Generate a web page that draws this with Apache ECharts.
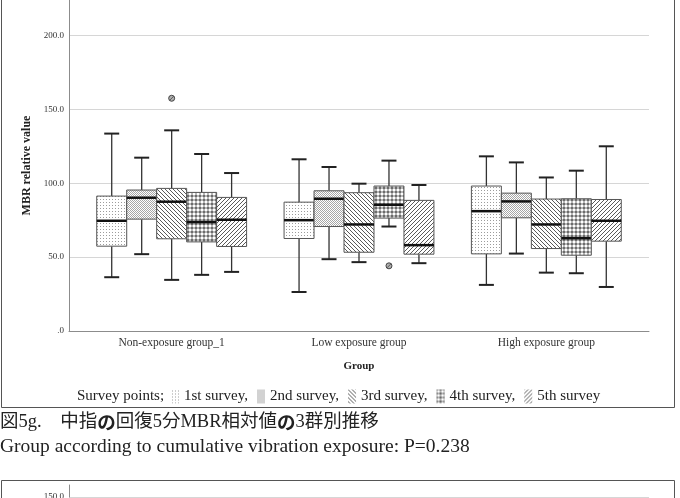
<!DOCTYPE html>
<html>
<head>
<meta charset="utf-8">
<script src="https://cdn.jsdelivr.net/npm/echarts@6/dist/echarts.min.js"></script>
<style>
  html, body { margin: 0; padding: 0; background: #fff; }
  #chart { width: 680px; height: 498px; }
</style>
</head>
<body>
<div id="chart"></div>
<script>
// groups on the x axis
const groups = ['Non-exposure group_1', 'Low exposure group', 'High exposure group'];
const surveys = ['1st survey', '2nd survey', '3rd survey', '4th survey', '5th survey'];

// [min, q1, median, q3, max] per group, one array per survey point
const survey1 = [[36.4, 57.4, 74.6, 91.3, 133.6], [26.4, 62.6, 75.0, 87.2, 116.2], [31.2, 52.2, 81.1, 98.1, 118.2]];
const survey2 = [[52.0, 75.7, 90.2, 95.4, 117.3], [48.6, 70.7, 89.5, 94.9, 111.0], [52.4, 76.6, 87.7, 93.3, 114.1]];
const survey3 = [[34.6, 62.4, 87.5, 96.5, 135.8], [46.6, 53.3, 72.1, 93.6, 99.7], [39.5, 55.8, 72.1, 89.3, 103.9]];
const survey4 = [[38.0, 60.3, 73.7, 93.8, 119.8], [70.7, 76.4, 85.4, 98.1, 115.3], [39.1, 51.3, 62.8, 89.5, 108.5]];
const survey5 = [[40.0, 57.2, 75.3, 90.4, 106.9], [45.9, 52.0, 58.1, 88.4, 98.8], [29.8, 60.8, 74.6, 89.0, 125.0]];
// [group index, survey index, value]
const outliers = [[0, 2, 157.5], [1, 3, 44.1]];

const yTicks = [0, 50, 100, 150, 200];

const caption1 = '図5g.　中指{b|の}回復5分MBR相対値{b|の}3群別推移';
const caption2 = 'Group according to cumulative vibration exposure: P=0.238';

const serif = 'Liberation Serif';
const stats = [survey1, survey2, survey3, survey4, survey5];

// hatch fills like the SPSS patterns
function makeTile(w, h, draw) {
  const c = document.createElement('canvas');
  c.width = w; c.height = h;
  const ctx = c.getContext('2d');
  ctx.fillStyle = '#fff';
  ctx.fillRect(0, 0, w, h);
  draw(ctx);
  return { image: c, repeat: 'repeat' };
}
const fills = [
  makeTile(3, 3, ctx => { ctx.fillStyle = '#9c9c9c'; ctx.fillRect(1, 1, 1, 1); }),
  makeTile(2, 2, ctx => { ctx.fillStyle = '#a6a6a6'; ctx.fillRect(0, 0, 1, 1); ctx.fillRect(1, 1, 1, 1); }),
  makeTile(4, 4, ctx => { ctx.fillStyle = '#5a5a5a'; for (let i = 0; i < 4; i++) ctx.fillRect(i, i, 1, 1); }),
  makeTile(4, 4, ctx => {
    ctx.fillStyle = '#5c5c5c'; ctx.fillRect(0, 0, 4, 4);
    ctx.fillStyle = '#fff'; ctx.beginPath(); ctx.arc(2, 2, 1.75, 0, Math.PI * 2); ctx.fill();
  }),
  makeTile(4, 4, ctx => { ctx.fillStyle = '#5a5a5a'; for (let i = 0; i < 4; i++) ctx.fillRect(3 - i, i, 1, 1); })
];

function boxRenderer(s) {
  return function (params, api) {
    const band = api.size([1, 0])[0];
    const w = band * 0.16;
    const g = api.value(0);
    const cx = api.coord([g, 0])[0] + (s - 2) * w;
    const [yMin, yQ1, yMed, yQ3, yMax] = [1, 2, 3, 4, 5].map(k => api.coord([g, api.value(k)])[1]);
    const capHalf = w / 4;
    const whisker = { stroke: '#333', lineWidth: 1.3 };
    const cap = { stroke: '#222', lineWidth: 2 };
    return {
      type: 'group',
      children: [
        { type: 'line', shape: { x1: cx, y1: yQ3, x2: cx, y2: yMax }, style: whisker },
        { type: 'line', shape: { x1: cx, y1: yQ1, x2: cx, y2: yMin }, style: whisker },
        { type: 'line', shape: { x1: cx - capHalf, y1: yMax, x2: cx + capHalf, y2: yMax }, style: cap },
        { type: 'line', shape: { x1: cx - capHalf, y1: yMin, x2: cx + capHalf, y2: yMin }, style: cap },
        { type: 'rect', shape: { x: cx - w / 2, y: yQ3, width: w, height: yQ1 - yQ3 }, style: { fill: fills[s], stroke: '#555', lineWidth: 1 } },
        { type: 'line', shape: { x1: cx - w / 2, y1: yMed, x2: cx + w / 2, y2: yMed }, style: { stroke: '#111', lineWidth: 2.5 } }
      ]
    };
  };
}

function outlierRenderer(params, api) {
  const band = api.size([1, 0])[0];
  const w = band * 0.16;
  const g = api.value(0);
  const cx = api.coord([g, 0])[0] + (api.value(1) - 2) * w;
  const cy = api.coord([g, api.value(2)])[1];
  return {
    type: 'group',
    children: [
      { type: 'circle', shape: { cx: cx, cy: cy, r: 3 }, style: { fill: '#b0b0b0', stroke: '#444', lineWidth: 1 } },
      { type: 'line', shape: { x1: cx - 2, y1: cy + 2, x2: cx + 2, y2: cy - 2 }, style: { stroke: '#444', lineWidth: 0.8 } }
    ]
  };
}

const fmt = v => (v === 0 ? '.0' : v.toFixed(1));

const chart = echarts.init(document.getElementById('chart'));

const series = surveys.map((name, s) => ({
  type: 'custom',
  name: name,
  xAxisIndex: 1,
  yAxisIndex: 1,
  itemStyle: { color: fills[s] },
  renderItem: boxRenderer(s),
  encode: { x: 0, y: [1, 2, 3, 4, 5] },
  data: stats[s].map((d, g) => [g].concat(d))
}));
series.push({
  type: 'custom',
  name: 'outliers',
  xAxisIndex: 1,
  yAxisIndex: 1,
  renderItem: outlierRenderer,
  encode: { x: 0, y: 2 },
  data: outliers
});

const option = {
  animation: false,
  backgroundColor: '#fff',
  grid: [
    { left: 69, right: 31, top: 0, height: 331, outerBoundsMode: 'none' },
    { left: 78, right: 40, top: 0, height: 331, outerBoundsMode: 'none' },
    { left: 69, right: 31, top: 485, height: 12, outerBoundsMode: 'none' }
  ],
  xAxis: [
    {
      gridIndex: 0, type: 'value', min: 0, max: 1,
      axisLine: { show: true, lineStyle: { color: '#8c8c8c' } },
      axisTick: { show: false }, axisLabel: { show: false }, splitLine: { show: false },
      name: 'Group', nameLocation: 'middle', nameGap: 30,
      nameTextStyle: { fontFamily: serif, fontWeight: 'bold', fontSize: 11, color: '#222' }
    },
    {
      gridIndex: 1, type: 'category', data: groups,
      axisLine: { show: false }, axisTick: { show: false },
      axisLabel: { margin: 6, fontFamily: serif, fontSize: 11.5, color: '#333' }
    },
    { gridIndex: 2, type: 'value', show: false }
  ],
  yAxis: [
    {
      gridIndex: 0, type: 'value', min: 0, max: 224, interval: 50,
      axisLine: { show: true, lineStyle: { color: '#8c8c8c' } },
      axisTick: { show: false },
      axisLabel: { margin: 5, fontFamily: serif, fontSize: 9, color: '#333', showMaxLabel: false,
        formatter: v => (yTicks.includes(v) ? fmt(v) : '') },
      splitLine: { show: true, showMinLine: false, showMaxLine: false, lineStyle: { color: '#d6d6d6' } },
      name: 'MBR relative value', nameLocation: 'middle', nameGap: 35,
      nameTextStyle: { fontFamily: serif, fontWeight: 'bold', fontSize: 12, color: '#222' }
    },
    { gridIndex: 1, type: 'value', min: 0, max: 224, show: false },
    {
      gridIndex: 2, type: 'value', min: 150, max: 162, interval: 50,
      axisLine: { show: true, lineStyle: { color: '#8c8c8c' } },
      axisTick: { show: false },
      axisLabel: { margin: 5, fontFamily: serif, fontSize: 9, color: '#333', showMaxLabel: false,
        formatter: v => (yTicks.includes(v) ? fmt(v) : '') },
      splitLine: { show: true, showMinLine: true, showMaxLine: false, lineStyle: { color: '#d6d6d6' } }
    }
  ],
  legend: {
    left: 171, top: 389, padding: 0,
    itemWidth: 8, itemHeight: 14, itemGap: 9,
    selectedMode: false, icon: 'rect',
    textStyle: { fontFamily: serif, fontSize: 15, color: '#222' },
    formatter: n => (n === surveys[4] ? n : n + ','),
    data: surveys.map((n, i) => ({ name: n, itemStyle: { color: fills[i], borderWidth: 0 } }))
  },
  graphic: [
    { type: 'rect', silent: true, shape: { x: 1.5, y: -5, width: 673, height: 412.5 }, style: { fill: 'none', stroke: '#555', lineWidth: 1 } },
    { type: 'rect', silent: true, shape: { x: 1.5, y: 480.5, width: 673, height: 40 }, style: { fill: 'none', stroke: '#555', lineWidth: 1 } },
    { type: 'text', x: 77, y: 396, style: { text: 'Survey points;', font: '15px "Liberation Serif"', fill: '#222', verticalAlign: 'middle' } },
    { type: 'text', x: 0, y: 422, style: {
      text: caption1, font: '18.5px "Liberation Serif", "Noto Sans CJK JP"', fill: '#222', verticalAlign: 'middle',
      rich: { b: { fontWeight: 'bold', fontSize: 18.5, fontFamily: 'Noto Sans CJK JP', fill: '#222' } } } },
    { type: 'text', x: 0, y: 447, style: { text: caption2, font: '19.5px "Liberation Serif"', fill: '#222', verticalAlign: 'middle' } }
  ],
  series: series
};

chart.setOption(option);
</script>
</body>
</html>
